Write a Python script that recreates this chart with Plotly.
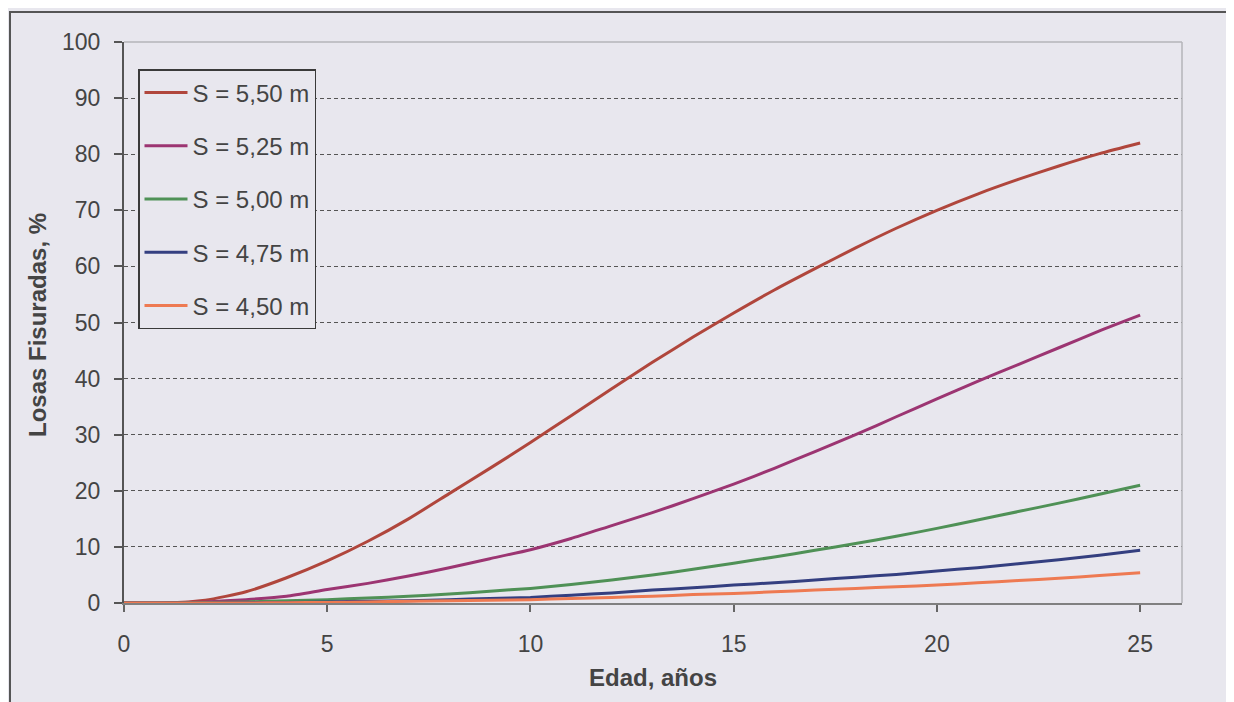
import plotly.graph_objects as go

edad = list(range(0, 26))
s550 = [0, 0, 0.5, 2, 4.5, 7.5, 11, 15, 19.5, 24, 28.6, 33.4, 38.2, 42.9, 47.4, 51.7,
        55.8, 59.6, 63.3, 66.8, 70, 72.9, 75.5, 77.9, 80.1, 82]
s525 = [0, 0, 0.2, 0.6, 1.2, 2.4, 3.5, 4.8, 6.3, 7.9, 9.5, 11.5, 13.8, 16.1, 18.6, 21.2,
        24, 27, 30, 33.2, 36.4, 39.5, 42.5, 45.5, 48.5, 51.3]
s500 = [0, 0, 0.1, 0.2, 0.4, 0.6, 0.9, 1.2, 1.6, 2.1, 2.6, 3.3, 4.1, 5, 6, 7.1,
        8.2, 9.4, 10.6, 11.9, 13.3, 14.8, 16.3, 17.8, 19.4, 21]
s475 = [0, 0, 0, 0.05, 0.1, 0.2, 0.3, 0.4, 0.6, 0.8, 1.0, 1.4, 1.8, 2.3, 2.7, 3.2,
        3.6, 4.1, 4.6, 5.1, 5.7, 6.3, 7, 7.7, 8.5, 9.4]
s450 = [0, 0, 0, 0, 0.05, 0.1, 0.2, 0.3, 0.4, 0.5, 0.6, 0.8, 1, 1.2, 1.5, 1.7,
        2, 2.3, 2.6, 2.9, 3.2, 3.6, 4, 4.4, 4.9, 5.4]

names = ["S = 5,50 m", "S = 5,25 m", "S = 5,00 m", "S = 4,75 m", "S = 4,50 m"]
series = [s550, s525, s500, s475, s450]
colors = ["#b0463c", "#9c3572", "#4f9156", "#343f80", "#ee7a52"]

x_ticks = [0, 5, 10, 15, 20, 25]
y_ticks = list(range(0, 101, 10))

BG = "#e8e7ee"
FONT = "Liberation Sans, Arial, sans-serif"

fig = go.Figure()
for i, (nm, ys, c) in enumerate(zip(names, series, colors)):
    fig.add_trace(go.Scatter(
        x=edad, y=ys, name=nm, mode="lines",
        line=dict(color=c, width=3, shape="spline", smoothing=0.6),
        legendgroup=f"g{i}",
    ))

W, H = 1234, 702
OFF = 8  # page body margin offset
L_, R_, T_, B_ = 124, 1182, 42, 603
ml = L_ - OFF
mr = W - (R_ - OFF)
mt = T_ - OFF
mb = H - (B_ - OFF)
pw, ph = R_ - L_, B_ - T_

def px_x(p):
    return (p - L_) / pw

def px_y(p):
    return (B_ - p) / ph

fig.update_layout(
    width=W, height=H,
    margin=dict(l=ml, r=mr, t=mt, b=mb, autoexpand=False),
    paper_bgcolor=BG, plot_bgcolor=BG,
    font=dict(family=FONT, size=23, color="#444"),
    showlegend=True,
    legend=dict(
        x=px_x(138), y=px_y(69), xanchor="left", yanchor="top",
        bgcolor=BG, bordercolor="#3a3a3a", borderwidth=1.5,
        font=dict(family=FONT, size=24, color="#444"),
        tracegroupgap=19, itemwidth=43,
    ),
    xaxis=dict(
        range=[0, 26.03], tickvals=x_ticks, ticktext=[str(v) for v in x_ticks],
        showgrid=False, zeroline=False,
        showline=True, linecolor="#808080", linewidth=1.5,
        ticks="outside", ticklen=7, tickcolor="#666", tickwidth=1.5,
        ticklabelstandoff=13, mirror=False,
    ),
    yaxis=dict(
        range=[0, 100], tickvals=y_ticks,
        showgrid=True, gridcolor="#555", griddash="4px,3px", gridwidth=1.3,
        zeroline=False,
        showline=True, linecolor="#555", linewidth=2,
        ticks="outside", ticklen=8, tickcolor="#555", tickwidth=1.5,
        ticklabelstandoff=9,
    ),
    shapes=[
        dict(type="line", xref="paper", yref="paper", x0=0, x1=1, y0=1, y1=1,
             line=dict(color="#b4b4b8", width=1.5)),
        dict(type="line", xref="paper", yref="paper", x0=1, x1=1, y0=0, y1=1,
             line=dict(color="#b4b4b8", width=1.5)),
        dict(type="rect", xref="paper", yref="paper",
             x0=px_x(10), x1=px_x(1228), y0=px_y(730), y1=px_y(12),
             line=dict(color="#555", width=2), layer="below"),
    ],
    annotations=[
        dict(text="<b>Edad, años</b>", xref="paper", yref="paper",
             x=px_x(653), y=px_y(677), showarrow=False,
             font=dict(family=FONT, size=24, color="#444"),
             xanchor="center", yanchor="middle"),
        dict(text="<b>Losas Fisuradas, %</b>", xref="paper", yref="paper",
             x=px_x(38), y=px_y(325), showarrow=False, textangle=-90,
             font=dict(family=FONT, size=24, color="#444"),
             xanchor="center", yanchor="middle"),
    ],
)

fig.write_html("out.html")
